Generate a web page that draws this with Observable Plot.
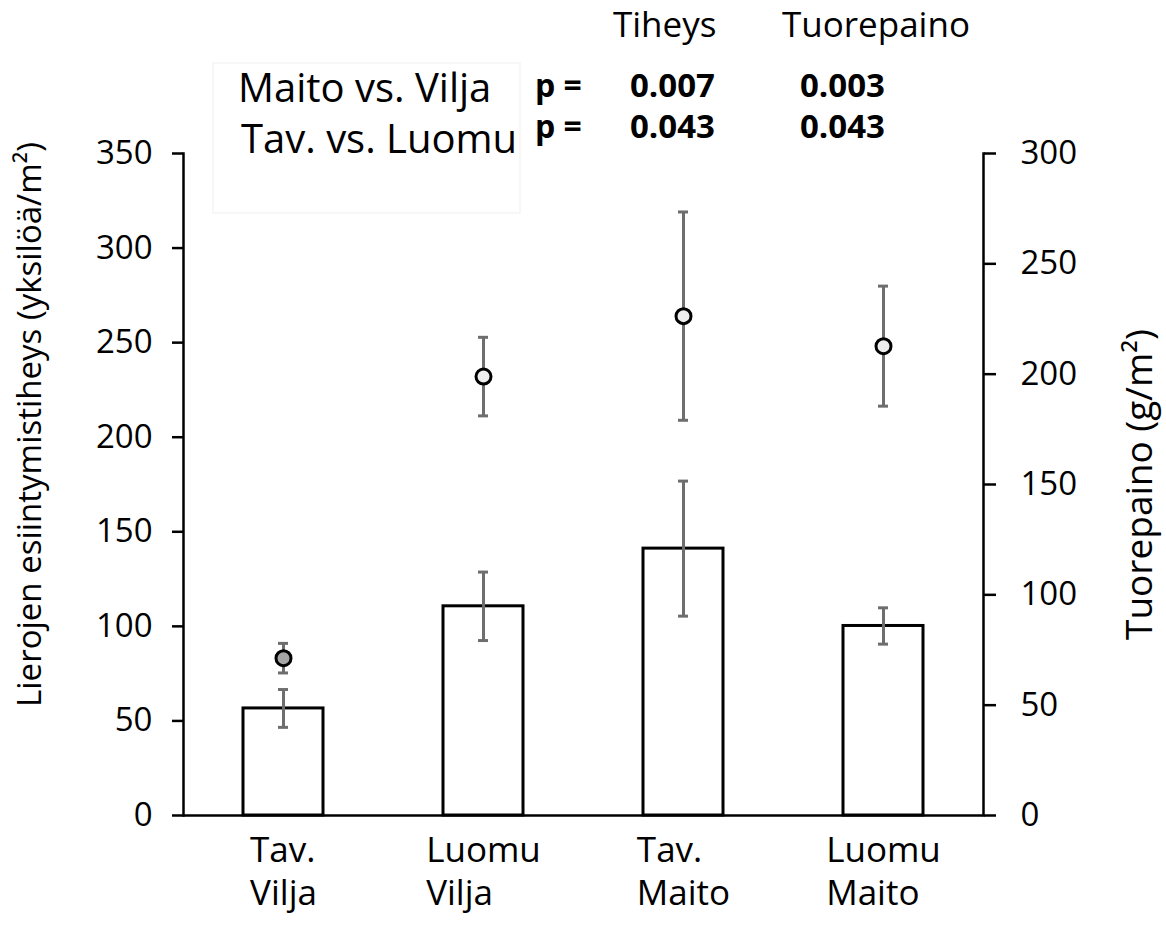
<!DOCTYPE html>
<html><head><meta charset="utf-8">
<script src="https://cdn.jsdelivr.net/npm/d3@7"></script>
<script src="https://cdn.jsdelivr.net/npm/@observablehq/plot@0.6"></script>
<style>
body{margin:0;background:#fff;font-family:'Open Sans',sans-serif;}
#wrap{position:relative;width:1166px;height:937px;overflow:hidden;}
#chart,#header{position:absolute;left:0;top:0;}
</style></head><body>
<div id="wrap"><div id="chart"></div><svg id="header" width="1166" height="220"></svg></div>
<script>
// ---- data ----
const categories = ["Tav. Vilja", "Luomu Vilja", "Tav. Maito", "Luomu Maito"];
const categoryLabels = ["Tav.\nVilja", "Luomu\nVilja", "Tav.\nMaito", "Luomu\nMaito"];
const density = [56.6, 110.6, 141.1, 100.2];        // Tiheys, yksilöä/m² (left axis, bars)
const densityErr = [10, 18.1, 35.7, 9.6];
const weight = [71.3, 198.9, 226.3, 212.7];         // Tuorepaino, g/m² (right axis, points)
const weightErr = [6.7, 17.8, 47.2, 27.2];
const leftTicks = [0, 50, 100, 150, 200, 250, 300, 350];
const rightTicks = [0, 50, 100, 150, 200, 250, 300];
const leftTitle = "Lierojen esiintymistiheys (yksilöä/m²)";
const rightTitle = "Tuorepaino (g/m²)";
const headerCols = ["Tiheys", "Tuorepaino"];
const comparisons = ["Maito vs. Vilja", "Tav. vs. Luomu"];
const pDensity = ["0.007", "0.043"];
const pWeight = ["0.003", "0.043"];

// ---- chart ----
const k = 350 / 300; // right axis (0–300) mapped to left scale (0–350)
const data = categories.map((c, i) => ({
  cat: c, label: categoryLabels[i],
  dens: density[i], densErr: densityErr[i],
  w: weight[i] * k, wErr: weightErr[i] * k, idx: i
}));
const errColor = "#6e6e6e";
const font = "'Open Sans', sans-serif";
const xfs = 35;
const ctx = document.createElement("canvas").getContext("2d");
ctx.font = `${xfs}px 'Open Sans'`;
const labelMarks = data.map(d => {
  const wmax = d3.max(d.label.split("\n"), s => ctx.measureText(s).width);
  return Plot.text([d], {x: "cat", text: "label", frameAnchor: "bottom", textAnchor: "start",
    lineAnchor: "top", dx: -wmax / 2, dy: 15, lineHeight: 1.25, fontSize: xfs, fill: "#000"});
});

const chart = Plot.plot({
  width: 1166, height: 937,
  marginTop: 153, marginBottom: 122, marginLeft: 183, marginRight: 183,
  style: {fontFamily: font, fontSize: "33px", color: "#000", background: "transparent"},
  x: {domain: categories, paddingInner: 0.6, paddingOuter: 0.3, axis: null},
  y: {domain: [0, 350], label: null},
  marks: [
    Plot.barY(data, {x: "cat", y: "dens", fill: "white", stroke: "#000", strokeWidth: 3}),
    Plot.ruleX(data, {x: "cat", y1: d => d.dens - d.densErr, y2: d => d.dens + d.densErr, stroke: errColor, strokeWidth: 3}),
    Plot.tickY(data, {x: "cat", y: d => d.dens - d.densErr, insetLeft: 35, insetRight: 35, stroke: errColor, strokeWidth: 3}),
    Plot.tickY(data, {x: "cat", y: d => d.dens + d.densErr, insetLeft: 35, insetRight: 35, stroke: errColor, strokeWidth: 3}),
    Plot.ruleX(data, {x: "cat", y1: d => d.w - d.wErr, y2: d => d.w + d.wErr, stroke: errColor, strokeWidth: 3}),
    Plot.tickY(data, {x: "cat", y: d => d.w - d.wErr, insetLeft: 35, insetRight: 35, stroke: errColor, strokeWidth: 3}),
    Plot.tickY(data, {x: "cat", y: d => d.w + d.wErr, insetLeft: 35, insetRight: 35, stroke: errColor, strokeWidth: 3}),
    Plot.dot(data, {x: "cat", y: "w", r: 7.5, stroke: "#000", strokeWidth: 3,
      fill: d => d.idx === 0 ? "#a6a6a6" : "#eeeeee"}),
    Plot.axisY(leftTicks, {anchor: "left", tickSize: 11, tickPadding: 20, strokeWidth: 2.5, fontSize: 33, label: null}),
    Plot.axisY(rightTicks.map(t => t * k), {anchor: "right", tickSize: 12, tickPadding: 25, strokeWidth: 2.5, fontSize: 33,
      tickFormat: d => String(Math.round(d / k)), label: null}),
    Plot.frame({anchor: "left", strokeWidth: 2.5}),
    Plot.frame({anchor: "right", strokeWidth: 2.5}),
    Plot.ruleY([0], {strokeWidth: 2.5}),
    Plot.text([leftTitle], {text: d => d, frameAnchor: "left", textAnchor: "middle", lineAnchor: "middle",
      rotate: -90, dx: -153, dy: -60, fontSize: 33, fill: "#000"}),
    Plot.text([rightTitle], {text: d => d, frameAnchor: "right", textAnchor: "middle", lineAnchor: "middle",
      rotate: -90, dx: 157, dy: 0, fontSize: 37, fill: "#000"}),
    ...labelMarks
  ]
});
document.getElementById("chart").appendChild(chart);

// ---- header (p-values table) ----
const hdr = d3.select("#header").attr("font-family", font).attr("fill", "#000");
hdr.append("rect").attr("x", 213).attr("y", 63).attr("width", 307).attr("height", 150)
  .attr("fill", "none").attr("stroke", "#f7f7f7").attr("stroke-width", 2);
hdr.selectAll("text.col").data(headerCols).join("text").attr("class", "col")
  .attr("x", (d, i) => [613, 782][i]).attr("y", 37).attr("font-size", 35).text(d => d);
hdr.selectAll("text.cmp").data(comparisons).join("text").attr("class", "cmp")
  .attr("x", (d, i) => [238, 241][i]).attr("y", (d, i) => [102, 153][i]).attr("font-size", 40).text(d => d);
const rowsY = [97, 138];
hdr.selectAll("text.p").data(rowsY).join("text").attr("class", "p")
  .attr("x", 535).attr("y", d => d).attr("font-size", 32).attr("font-weight", "bold").text("p =");
hdr.selectAll("text.pd").data(pDensity).join("text").attr("class", "pd")
  .attr("x", 630).attr("y", (d, i) => rowsY[i]).attr("font-size", 33).attr("font-weight", "bold").text(d => d);
hdr.selectAll("text.pw").data(pWeight).join("text").attr("class", "pw")
  .attr("x", 800).attr("y", (d, i) => rowsY[i]).attr("font-size", 33).attr("font-weight", "bold").text(d => d);
</script>
</body></html>
